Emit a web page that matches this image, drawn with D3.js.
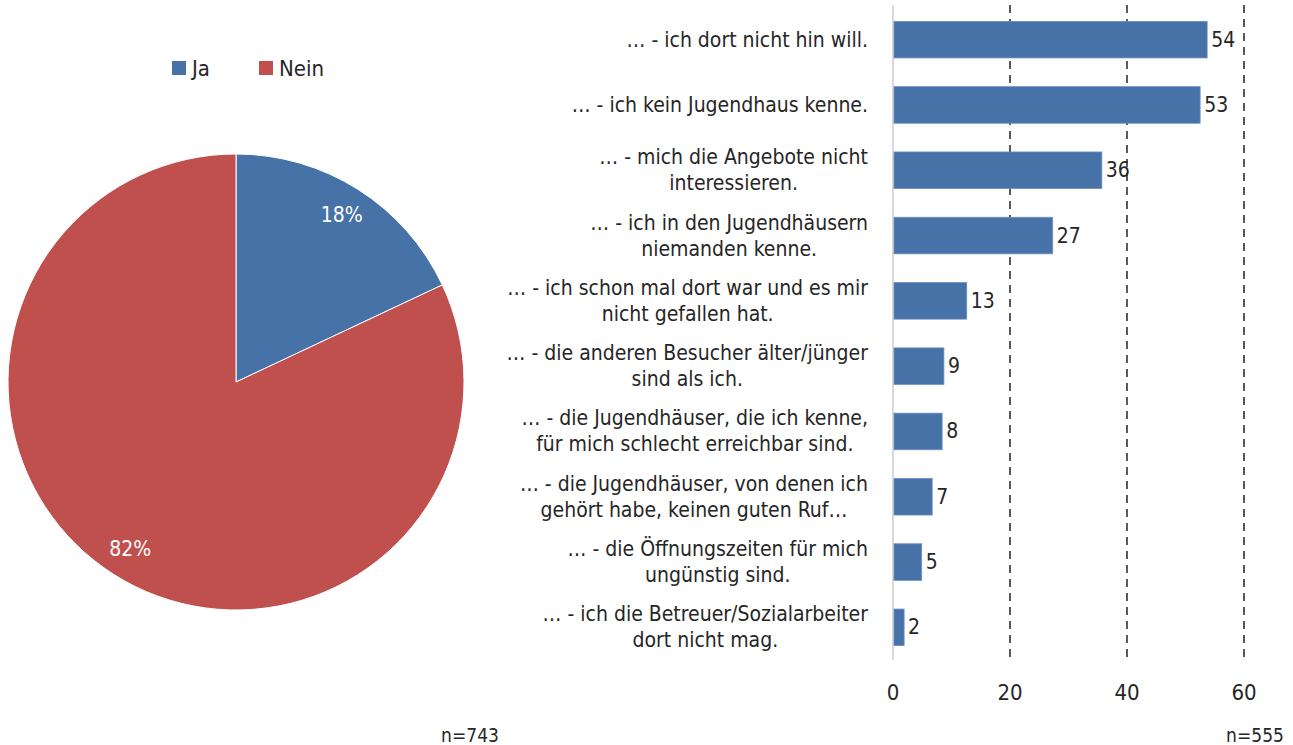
<!DOCTYPE html>
<html>
<head>
<meta charset="utf-8">
<script src="https://cdn.jsdelivr.net/npm/d3@7"></script>
<style>
  body { margin: 0; background: #fff; }
  svg text { font-family: "Liberation Sans Narrow", "DejaVu Sans Condensed", sans-serif; fill: #262626; }
</style>
</head>
<body>
<div id="chart"></div>
<script>
// pie data
var pieLabels = ["Ja", "Nein"];
var pieValues = [18, 82];
var pieColors = ["#4672a8", "#c0504d"];
var pieN = "n=743";

// bar data (reasons, top to bottom)
var barLabels = [
	["… - ich dort nicht hin will."],
	["… - ich kein Jugendhaus kenne."],
	["… - mich die Angebote nicht", "interessieren."],
	["… - ich in den Jugendhäusern", "niemanden kenne."],
	["… - ich schon mal dort war und es mir", "nicht gefallen hat."],
	["… - die anderen Besucher älter/jünger", "sind als ich."],
	["… - die Jugendhäuser, die ich kenne,", "für mich schlecht erreichbar sind."],
	["… - die Jugendhäuser, von denen ich", "gehört habe, keinen guten Ruf…"],
	["… - die Öffnungszeiten für mich", "ungünstig sind."],
	["… - ich die Betreuer/Sozialarbeiter", "dort nicht mag."]
];
var barValues = [53.7, 52.5, 35.7, 27.3, 12.6, 8.7, 8.4, 6.7, 4.9, 1.9];
var xTicks = [0, 20, 40, 60];
var barN = "n=555";

var width = 1293, height = 745;
var fontSize = 21;

var svg = d3.select("#chart").append("svg")
	.attr("width", width)
	.attr("height", height);

// ---- pie ----
var cx = 236, cy = 382, radius = 228;

var pie = d3.pie().sort(null);
var arc = d3.arc().innerRadius(0).outerRadius(radius);
var labelArc = d3.arc().innerRadius(radius * 0.865).outerRadius(radius * 0.865);

var pieG = svg.append("g")
	.attr("transform", "translate(" + cx + "," + cy + ")");

var slices = pie(pieValues);

pieG.selectAll("path")
	.data(slices)
	.enter().append("path")
	.attr("d", arc)
	.attr("fill", (d, i) => pieColors[i])
	.attr("stroke", "#fff")
	.attr("stroke-width", 1);

pieG.selectAll("text")
	.data(slices)
	.enter().append("text")
	.attr("transform", d => "translate(" + labelArc.centroid(d) + ")")
	.attr("text-anchor", "middle")
	.attr("dominant-baseline", "central")
	.style("font-size", fontSize + "px")
	.style("fill", "#fff")
	.text(d => d.data + "%");

// legend
var legendX = [172, 259];
var legend = svg.append("g");
pieLabels.forEach((lab, i) => {
	legend.append("rect")
		.attr("x", legendX[i])
		.attr("y", 61)
		.attr("width", 14)
		.attr("height", 14)
		.attr("fill", pieColors[i]);
	legend.append("text")
		.attr("x", legendX[i] + 20)
		.attr("y", 68)
		.attr("dominant-baseline", "central")
		.style("font-size", "22px")
		.text(lab);
});

svg.append("text")
	.attr("x", 470)
	.attr("y", 735)
	.attr("text-anchor", "middle")
	.attr("dominant-baseline", "central")
	.style("font-size", "19px")
	.text(pieN);

// ---- bars ----
var x = d3.scaleLinear().domain([0, 60]).range([893, 1244]);
var y = d3.scaleBand()
	.domain(d3.range(barValues.length))
	.range([7, 660])
	.paddingInner(0.44)
	.paddingOuter(0.22);

var gridTop = 5, gridBottom = 660;

// dashed gridlines
svg.append("g").selectAll("line")
	.data(xTicks.filter(t => t > 0))
	.enter().append("line")
	.attr("x1", d => x(d)).attr("x2", d => x(d))
	.attr("y1", gridTop).attr("y2", gridBottom)
	.attr("stroke", "#595959")
	.attr("stroke-width", 2)
	.attr("stroke-dasharray", "8,6");

// category axis line
svg.append("line")
	.attr("x1", x(0)).attr("x2", x(0))
	.attr("y1", gridTop).attr("y2", gridBottom)
	.attr("stroke", "#d9d9d9")
	.attr("stroke-width", 2);

svg.append("g").selectAll("rect")
	.data(barValues)
	.enter().append("rect")
	.attr("x", x(0) + 1)
	.attr("y", (d, i) => y(i))
	.attr("width", d => x(d) - x(0) - 1)
	.attr("height", y.bandwidth())
	.attr("fill", "#4672a8")
	.attr("stroke", "#6a90c0")
	.attr("stroke-width", 0.8);

// value labels
svg.append("g").selectAll("text")
	.data(barValues)
	.enter().append("text")
	.attr("x", d => x(d) + 4)
	.attr("y", (d, i) => y(i) + y.bandwidth() / 2)
	.attr("dominant-baseline", "central")
	.style("font-size", fontSize + "px")
	.text(d => Math.round(d));

// category labels: lines centered in a block right-aligned at labelRight
var labelRight = 868;
var lineH = 26;
barLabels.forEach((lines, i) => {
	var g = svg.append("g");
	var yc = y(i) + y.bandwidth() / 2;
	var texts = lines.map((ln, j) => g.append("text")
		.attr("y", yc + (j - (lines.length - 1) / 2) * lineH)
		.attr("dominant-baseline", "central")
		.attr("text-anchor", "middle")
		.style("font-size", fontSize + "px")
		.text(ln));
	var maxW = d3.max(texts, t => t.node().getComputedTextLength());
	texts.forEach(t => t.attr("x", labelRight - maxW / 2));
});

// x axis tick labels
svg.append("g").selectAll("text")
	.data(xTicks)
	.enter().append("text")
	.attr("x", d => x(d))
	.attr("y", 692)
	.attr("text-anchor", "middle")
	.attr("dominant-baseline", "central")
	.style("font-size", "22px")
	.text(d => d);

svg.append("text")
	.attr("x", 1255)
	.attr("y", 735)
	.attr("text-anchor", "middle")
	.attr("dominant-baseline", "central")
	.style("font-size", "19px")
	.text(barN);
</script>
</body>
</html>
